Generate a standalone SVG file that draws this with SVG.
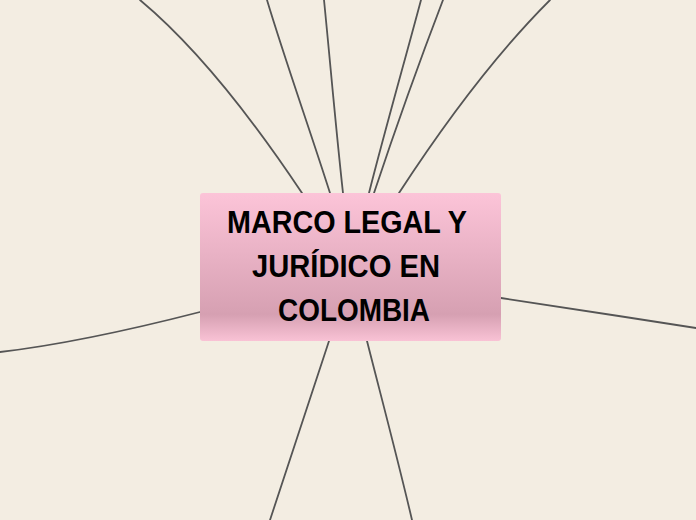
<svg xmlns="http://www.w3.org/2000/svg" width="696" height="520" viewBox="0 0 696 520">
<style>
.c{fill:none;stroke:#555555;stroke-width:1.8;stroke-linecap:round}
.t{font-family:"Liberation Sans",Arial,sans-serif;font-weight:bold;font-size:32px;fill:#000000;text-anchor:middle}
</style>
<defs>
<linearGradient id="g" x1="0" y1="0" x2="0" y2="1">
<stop offset="0" stop-color="#fcc4d8"/>
<stop offset="0.82" stop-color="#d6a0b2"/>
<stop offset="1" stop-color="#f9c2d5"/>
</linearGradient>
</defs>
<rect width="696" height="520" fill="#f3ede2"/>
<g id="connectors">
<path class="c" d="M302,193 C260,130 200,50 140,0"/>
<path class="c" d="M330,193 C310,130 285,60 267,0"/>
<path class="c" d="M343,193 C336,130 330,60 324,0"/>
<path class="c" d="M369,193 C385,130 405,60 421,0"/>
<path class="c" d="M374,193 C395,130 420,60 443,0"/>
<path class="c" stroke-width="1.4" d="M399,193 C440,130 490,60 550,0"/>
<path class="c" stroke-width="1.4" d="M501,298 C570,308 630,318 696,328"/>
<path class="c" stroke-width="1.4" d="M200,312 C130,330 60,345 0,352"/>
<path class="c" d="M329,341 C310,400 290,460 270,520"/>
<path class="c" d="M367,341 C382,400 398,460 412,520"/>
</g>
<g id="center">
<rect x="200" y="193" width="301" height="148" rx="3" fill="url(#g)"/>
<text class="t" x="347" y="233" textLength="240" lengthAdjust="spacingAndGlyphs">MARCO LEGAL Y</text>
<text class="t" x="346" y="277" textLength="188" lengthAdjust="spacingAndGlyphs">JURÍDICO EN</text>
<text class="t" x="354" y="321" textLength="152" lengthAdjust="spacingAndGlyphs">COLOMBIA</text>
</g>
</svg>
